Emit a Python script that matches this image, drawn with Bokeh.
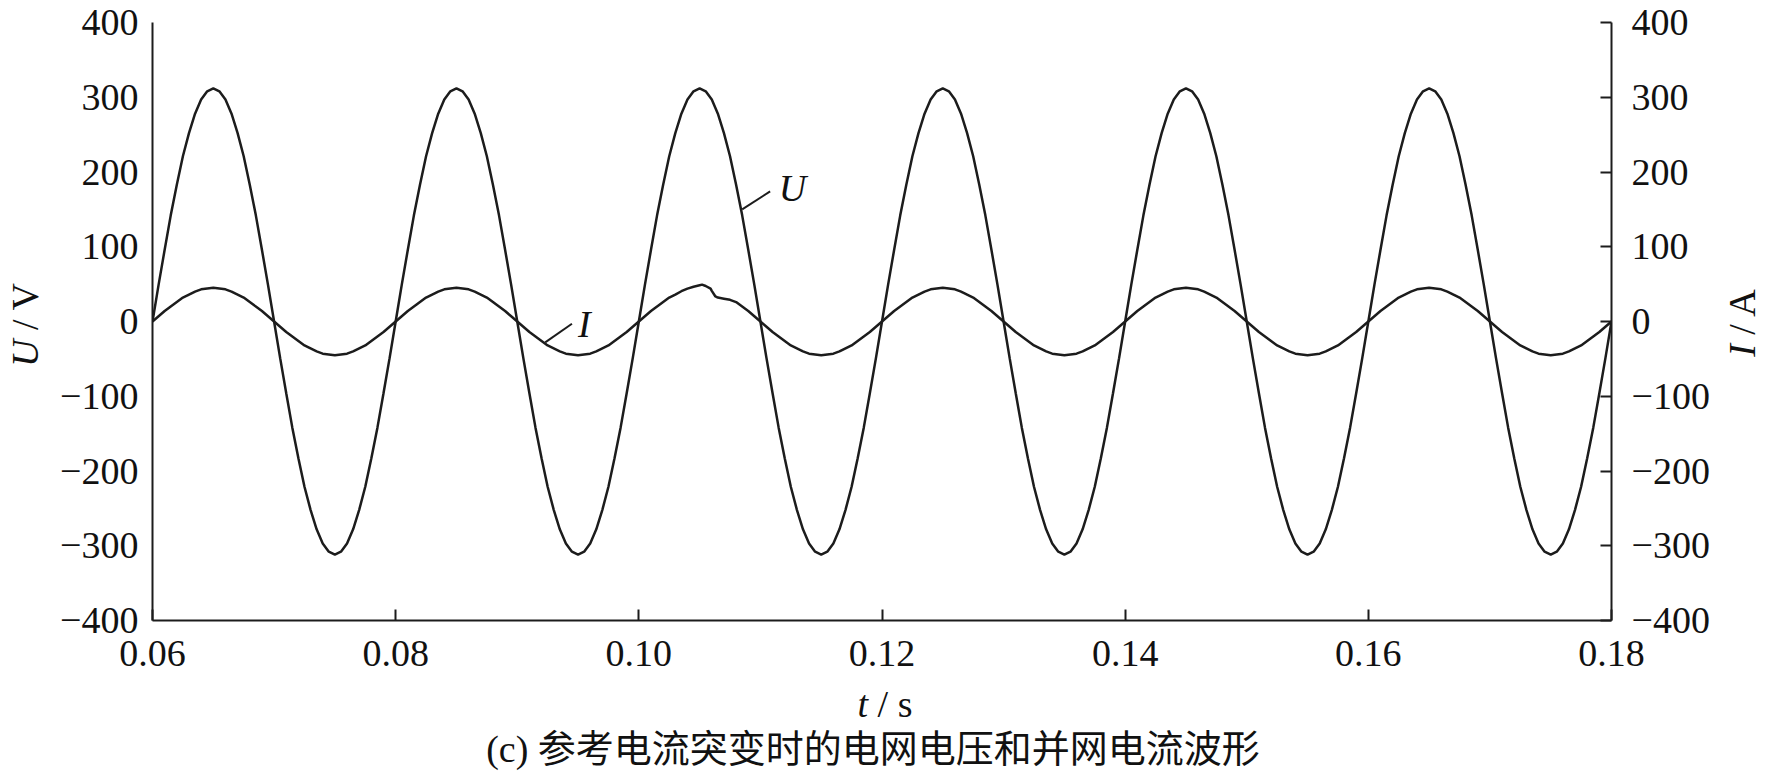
import numpy as np
from bokeh.plotting import figure
from bokeh.models import LinearAxis, Range1d, Label, FixedTicker, CustomJSTickFormatter, Div
from bokeh.layouts import column, row
from bokeh.embed import file_html
from bokeh.resources import INLINE

# ---------------- data ----------------
T_START = 0.06          # s, first sample
T_STEP = 0.0005         # s, sample spacing

# grid voltage U / V, sampled every 0.5 ms from 0.06 s to 0.18 s
U_V = [
    0, 49, 96, 142, 183, 221, 252, 278, 297, 308, 312, 308, 297, 278, 252, 221, 183, 142, 96, 49,
    0, -49, -96, -142, -183, -221, -252, -278, -297, -308, -312, -308, -297, -278, -252, -221, -183, -142, -96, -49,
    0, 49, 96, 142, 183, 221, 252, 278, 297, 308, 312, 308, 297, 278, 252, 221, 183, 142, 96, 49,
    0, -49, -96, -142, -183, -221, -252, -278, -297, -308, -312, -308, -297, -278, -252, -221, -183, -142, -96, -49,
    0, 49, 96, 142, 183, 221, 252, 278, 297, 308, 312, 308, 297, 278, 252, 221, 183, 142, 96, 49,
    0, -49, -96, -142, -183, -221, -252, -278, -297, -308, -312, -308, -297, -278, -252, -221, -183, -142, -96, -49,
    0, 49, 96, 142, 183, 221, 252, 278, 297, 308, 312, 308, 297, 278, 252, 221, 183, 142, 96, 49,
    0, -49, -96, -142, -183, -221, -252, -278, -297, -308, -312, -308, -297, -278, -252, -221, -183, -142, -96, -49,
    0, 49, 96, 142, 183, 221, 252, 278, 297, 308, 312, 308, 297, 278, 252, 221, 183, 142, 96, 49,
    0, -49, -96, -142, -183, -221, -252, -278, -297, -308, -312, -308, -297, -278, -252, -221, -183, -142, -96, -49,
    0, 49, 96, 142, 183, 221, 252, 278, 297, 308, 312, 308, 297, 278, 252, 221, 183, 142, 96, 49,
    0, -49, -96, -142, -183, -221, -252, -278, -297, -308, -312, -308, -297, -278, -252, -221, -183, -142, -96, -49,
    0,
]

# grid-connected current I / A, same 0.5 ms samples (step of the reference near 0.105 s)
I_A = [
    0, 7, 14, 20, 26, 32, 36, 40, 43, 44, 45, 44, 43, 40, 36, 32, 26, 20, 14, 7,
    0, -7, -14, -20, -26, -32, -36, -40, -43, -44, -45, -44, -43, -40, -36, -32, -26, -20, -14, -7,
    0, 7, 14, 20, 26, 32, 36, 40, 43, 44, 45, 44, 43, 40, 36, 32, 26, 20, 14, 7,
    0, -7, -14, -20, -26, -32, -36, -40, -43, -44, -45, -44, -43, -40, -36, -32, -26, -20, -14, -7,
    0, 7, 14, 20, 26, 32, 36, 40.5, 44, 46.5, 48.5, 47.5, 41, 32, 30.5, 29, 26, 20, 14, 7,
    0, -7, -14, -20, -26, -32, -36, -40, -43, -44, -45, -44, -43, -40, -36, -32, -26, -20, -14, -7,
    0, 7, 14, 20, 26, 32, 36, 40, 43, 44, 45, 44, 43, 40, 36, 32, 26, 20, 14, 7,
    0, -7, -14, -20, -26, -32, -36, -40, -43, -44, -45, -44, -43, -40, -36, -32, -26, -20, -14, -7,
    0, 7, 14, 20, 26, 32, 36, 40, 43, 44, 45, 44, 43, 40, 36, 32, 26, 20, 14, 7,
    0, -7, -14, -20, -26, -32, -36, -40, -43, -44, -45, -44, -43, -40, -36, -32, -26, -20, -14, -7,
    0, 7, 14, 20, 26, 32, 36, 40, 43, 44, 45, 44, 43, 40, 36, 32, 26, 20, 14, 7,
    0, -7, -14, -20, -26, -32, -36, -40, -43, -44, -45, -44, -43, -40, -36, -32, -26, -20, -14, -7,
    0,
]

# extra current readings around the step
I_EXTRA_T = [0.1052, 0.1059, 0.1063]
I_EXTRA_A = [49.3, 44, 33.5]

X_TICKS = [0.06, 0.08, 0.10, 0.12, 0.14, 0.16, 0.18]
Y_TICKS = [-400, -300, -200, -100, 0, 100, 200, 300, 400]

CAPTION = "(c) 参考电流突变时的电网电压和并网电流波形"

# ---------------- build series ----------------
t = T_START + T_STEP * np.arange(len(U_V))
tI = np.concatenate([T_START + T_STEP * np.arange(len(I_A)), I_EXTRA_T])
iI = np.concatenate([np.array(I_A, dtype=float), I_EXTRA_A])
order = np.argsort(tI)
tI, iI = tI[order], iI[order]

INK = "#1c1c1c"
SERIF = "Liberation Serif"
FS = "38px"

LEFT_W, RIGHT_W = 50, 55
P_W, P_H = 1665, 690

p = figure(width=P_W, height=P_H,
           x_range=Range1d(0.06, 0.18), y_range=Range1d(-400, 400),
           output_backend="svg", toolbar_location=None,
           min_border_left=102, min_border_right=104,
           min_border_top=22, min_border_bottom=70, margin=0)
p.extra_y_ranges = {"I": Range1d(-400, 400)}
p.outline_line_color = None
p.xgrid.visible = False
p.ygrid.visible = False
p.background_fill_color = "white"
p.border_fill_color = "white"

right = LinearAxis(y_range_name="I")
p.add_layout(right, "right")

yfmt = CustomJSTickFormatter(code="return tick < 0 ? '\u2212' + (-tick).toFixed(0) : tick.toFixed(0);")
for ax in [p.yaxis[0], right]:
    ax.ticker = FixedTicker(ticks=Y_TICKS)
    ax.formatter = yfmt

p.xaxis.ticker = FixedTicker(ticks=X_TICKS)
p.xaxis.formatter = CustomJSTickFormatter(code="return tick.toFixed(2);")

for ax in [p.xaxis[0], p.yaxis[0], right]:
    ax.axis_line_width = 2
    ax.axis_line_color = INK
    ax.major_tick_line_width = 2
    ax.major_tick_line_color = INK
    ax.minor_tick_line_color = None
    ax.major_label_text_font = SERIF
    ax.major_label_text_font_size = FS
    ax.major_label_text_color = "#111111"

p.yaxis[0].major_tick_in = 0
p.yaxis[0].major_tick_out = 0
p.yaxis[0].major_label_standoff = 14
right.major_tick_in = 11
right.major_tick_out = 0
right.major_label_standoff = 20
p.xaxis.major_tick_in = 11
p.xaxis.major_tick_out = 0
p.xaxis.major_label_standoff = 20

# curves
p.line(t, U_V, line_width=2.5, line_color=INK)
p.line(tI, iI, line_width=2.5, line_color=INK, y_range_name="I")

# leader lines for the curve names
p.line([0.1085, 0.1108], [150, 174], line_width=2, line_color=INK)
p.line([0.0923, 0.0945], [-28, -3], line_width=2, line_color=INK)

# curve names
for x, y, txt in [(0.1115, 179, "U"), (0.0950, -4, "I")]:
    p.add_layout(Label(x=x, y=y, text=txt, text_font=SERIF, text_font_size=FS,
                       text_font_style="italic", text_align="left", text_baseline="middle",
                       text_color="#111111"))


def box(w, h, cx, cy, html, size="38px", rotate=False, font="'Liberation Serif'"):
    tr = "translate(-50%,-50%)" + (" rotate(-90deg)" if rotate else "")
    inner = (f'<div style="position:relative;width:{w}px;height:{h}px;">'
             f'<span style="position:absolute;left:{cx}px;top:{cy}px;transform:{tr};'
             f'white-space:nowrap;font-family:{font};font-size:{size};color:#111111;'
             f'line-height:1;">{html}</span></div>')
    return Div(text=inner, width=w, height=h, margin=0)


left_title = box(LEFT_W, P_H, 25, 325, "<i>U</i> / V", rotate=True)
right_title = box(RIGHT_W, P_H, 27, 323, "<i>I</i> / A", rotate=True)
total_w = LEFT_W + P_W + RIGHT_W
x_title = box(total_w, 35, 885, 14, "<i>t</i> / s")
caption = box(total_w, 47, 873, 24, CAPTION, size="38px",
              font="'Liberation Serif','Noto Sans CJK SC'")

layout = column(row(left_title, p, right_title, spacing=0), x_title, caption, spacing=0)

open("out.html", "w").write(file_html(layout, INLINE))
